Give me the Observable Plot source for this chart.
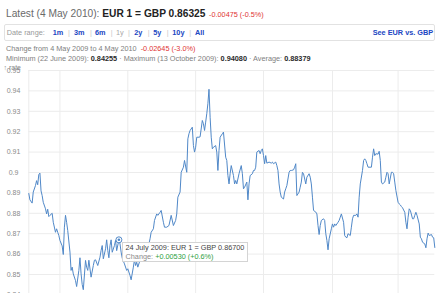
<!DOCTYPE html>
<html>
<head>
<meta charset="utf-8">
<script src="https://cdn.jsdelivr.net/npm/d3@7"></script>
<script src="https://cdn.jsdelivr.net/npm/@observablehq/plot@0.6"></script>
<style>
  html, body { margin: 0; padding: 0; background: #fff; }
  body { width: 440px; height: 293px; overflow: hidden; position: relative;
         font-family: "Liberation Sans", Arial, sans-serif; }
  .t { position: absolute; white-space: nowrap; line-height: 1; }
  .s { font-size: 7.3px; color: #808080; }
  .red { color: #e03434; }
  .b { font-weight: bold; color: #2a2a2a; }
  .lnk { font-weight: bold; color: #2046c2; }
  .off { color: #aaa; font-weight: normal; }
  .sep { color: #c8c8c8; }
  #box { position: absolute; left: 4px; top: 24px; width: 429px; height: 15px;
         border: 1px solid #e2e2e2; border-radius: 2px; }
  #chart { position: absolute; left: 0; top: 62px; }
  #tip { position: absolute; left: 121.5px; top: 242px; width: 124px; height: 18px;
         border: 1px solid #d4d4d4; background: rgba(255,255,255,0.95); }
</style>
</head>
<body>
<div class="t" style="left:6px;top:8.6px;font-size:10.2px;color:#6a6a6a">Latest (4 May 2010): <span style="font-weight:bold;color:#222">EUR 1 = GBP 0.86325</span></div>
<div class="t s red" style="left:209px;top:11.2px">-0.00475 (-0.5%)</div>

<div id="box"></div>
<div class="t s" style="left:6.7px;top:28.5px;color:#999">Date range:</div>
<div class="t s lnk" style="left:52.7px;top:28.5px">1m</div>
<div class="t s sep" style="left:68px;top:28.5px">|</div>
<div class="t s lnk" style="left:74px;top:28.5px">3m</div>
<div class="t s sep" style="left:90px;top:28.5px">|</div>
<div class="t s lnk" style="left:95px;top:28.5px">6m</div>
<div class="t s sep" style="left:110.7px;top:28.5px">|</div>
<div class="t s off" style="left:116px;top:28.5px">1y</div>
<div class="t s sep" style="left:128px;top:28.5px">|</div>
<div class="t s lnk" style="left:134.3px;top:28.5px">2y</div>
<div class="t s sep" style="left:147.7px;top:28.5px">|</div>
<div class="t s lnk" style="left:153.3px;top:28.5px">5y</div>
<div class="t s sep" style="left:166.7px;top:28.5px">|</div>
<div class="t s lnk" style="left:172.3px;top:28.5px">10y</div>
<div class="t s sep" style="left:189.3px;top:28.5px">|</div>
<div class="t s lnk" style="left:195px;top:28.5px">All</div>
<div class="t s lnk" style="left:372.7px;top:28.5px">See EUR vs. GBP</div>

<div class="t s" style="left:6px;top:44.6px">Change from 4 May 2009 to 4 May 2010 &nbsp;<span class="red">-0.02645 (-3.0%)</span></div>
<div class="t s" style="left:6px;top:55.2px">Minimum (22 June 2009): <span class="b">0.84255</span> · Maximum (13 October 2009): <span class="b">0.94080</span> · Average: <span class="b">0.88379</span></div>

<div id="chart"></div>

<div id="tip">
  <div class="t s" style="left:3px;top:1.2px;color:#444">24 July 2009: EUR 1 = GBP 0.86700</div>
  <div class="t s" style="left:3px;top:9.6px;color:#8a8a8a">Change: <span style="color:#2fa043">+0.00530 (+0.6%)</span></div>
</div>

<script>
// ---- data ----
const startDay = "2009-05-04";
const endDay = "2010-05-04";
// days elapsed since 4 May 2009 for each quote
const daysSinceStart = [
  0,1,3,4,6,7,8,9,10,11,12,13,15,16,17,18,19,21,22,24,25,26,27,28,30,31,32,33,34,35,
  37,38,39,40,42,43,45,46,47,48,49,51,52,53,54,56,58,59,60,62,64,65,66,67,69,70,71,72,73,74,
  75,77,78,79,81,82,83,84,86,88,89,91,92,94,95,96,97,98,100,101,102,103,104,106,107,108,109,110,112,113,
  115,116,118,119,121,122,124,126,128,130,132,133,134,136,137,139,140,142,143,144,145,147,148,149,150,151,153,154,156,157,
  158,159,160,161,162,163,164,165,166,168,169,170,171,172,174,175,177,178,179,180,181,182,184,185,186,187,189,191,192,193,
  194,196,197,198,199,201,202,203,204,205,207,208,209,210,211,212,213,214,216,218,219,220,222,223,224,225,226,227,229,230,
  231,232,234,235,236,238,239,240,241,243,244,245,246,247,249,250,252,253,254,255,256,258,259,260,261,262,263,265,266,267,
  268,269,270,272,273,274,275,276,278,279,280,281,283,284,285,286,287,289,290,291,292,294,295,296,297,298,300,301,302,303,
  304,305,308,309,310,311,312,314,315,316,317,318,320,321,322,323,324,326,327,328,329,330,332,333,334,335,336,338,339,340,
  341,342,343,345,346,347,348,349,351,352,353,354,356,357,358,359,360,362,363,364,365
];
// EUR 1 = GBP ...
const eurGbp = [
  0.8897,0.8866,0.8850,0.8904,0.8936,0.8960,0.8940,0.8990,0.8997,0.8910,0.8887,0.8854,0.8822,0.8797,0.8820,0.8784,0.8790,0.8800,0.8756,0.8707,0.8724,0.8707,0.8691,0.8667,0.8640,0.8598,0.8732,0.8790,0.8756,0.8716,
  0.8610,0.8520,0.8536,0.8503,0.8470,0.8441,0.8520,0.8582,0.8503,0.8451,0.84255,0.8569,0.8536,0.8520,0.8570,0.8487,0.8544,0.8570,0.8572,0.8544,0.8585,0.8618,0.8642,0.8577,0.8626,0.8670,0.8618,0.8582,0.8642,0.8670,
  0.8609,0.8642,0.8667,0.8617,0.8670,0.8650,0.8610,0.8580,0.8552,0.8520,0.8528,0.8495,0.8474,0.8536,0.8572,0.8544,0.8560,0.8536,0.8570,0.8590,0.8620,0.8600,0.8630,0.8610,0.8640,0.8650,0.8675,0.8707,0.8724,0.8765,
  0.8797,0.8790,0.8805,0.8814,0.8756,0.8732,0.8732,0.8740,0.8790,0.8740,0.8765,0.8797,0.8879,0.8904,0.9001,0.9026,0.9059,0.9001,0.9165,0.9190,0.9206,0.9222,0.9132,0.9100,0.9124,0.9173,0.9173,0.9175,0.9255,0.9239,
  0.9206,0.9247,0.9288,0.9337,0.9408,0.9271,0.9173,0.9116,0.9124,0.9132,0.9100,0.9010,0.9108,0.9173,0.9190,0.9198,0.9075,0.9059,0.8985,0.8944,0.8994,0.9034,0.8985,0.8944,0.8961,0.8944,0.8994,0.9034,0.8994,0.8920,
  0.8928,0.8953,0.8866,0.8944,0.8985,0.8994,0.9010,0.9010,0.9026,0.9100,0.9108,0.9092,0.9108,0.9116,0.9083,0.9043,0.9083,0.9046,0.9051,0.9046,0.9051,0.9043,0.9051,0.9034,0.9010,0.8944,0.8904,0.8879,0.8870,0.8904,
  0.8920,0.8936,0.9001,0.9010,0.9010,0.9013,0.9026,0.9043,0.8887,0.8904,0.8928,0.8953,0.9001,0.8994,0.8944,0.8977,0.8994,0.8977,0.8944,0.8879,0.8814,0.8806,0.8797,0.8740,0.8696,0.8740,0.8765,0.8773,0.8765,0.8700,
  0.8667,0.8621,0.8675,0.8724,0.8748,0.8732,0.8748,0.8740,0.8756,0.8765,0.8781,0.8797,0.8756,0.8691,0.8683,0.8680,0.8700,0.8691,0.8732,0.8773,0.8790,0.8790,0.8797,0.8781,0.8879,0.8944,0.9010,0.9059,0.9067,0.9059,
  0.9043,0.9026,0.9026,0.9075,0.9116,0.9083,0.9092,0.9090,0.9104,0.9059,0.8953,0.8944,0.8953,0.8977,0.9001,0.8994,0.8944,0.9001,0.9001,0.8994,0.8953,0.8912,0.8854,0.8846,0.8841,0.8833,0.8827,0.8805,0.8756,0.8724,
  0.8781,0.8822,0.8814,0.8773,0.8773,0.8790,0.8805,0.8790,0.8748,0.8683,0.8675,0.8658,0.8650,0.8631,0.8675,0.8703,0.8691,0.8696,0.8683,0.8680,0.86325
];
const yTicks = [0.84,0.85,0.86,0.87,0.88,0.89,0.90,0.91,0.92,0.93,0.94,0.95];
const gridDates = ["2009-06-01","2009-08-01","2009-10-01","2009-12-01","2010-02-01","2010-04-01"];
const highlightDay = 81; // 24 July 2009

// ---- build ----
const start = new Date(startDay + "T00:00:00Z");
const end = new Date(endDay + "T00:00:00Z");
const data = daysSinceStart.map((d, i) => ({
  date: d3.utcDay.offset(start, d), rate: eurGbp[i], day: d
}));
const highlight = data.filter(d => d.day === highlightDay);
const lineColor = "#5088c8";
const gridColor = "#ececec";

const chart = Plot.plot({
  width: 440,
  height: 252,
  marginTop: 8,
  marginBottom: 19.6,
  marginLeft: 28.3,
  marginRight: 5.7,
  style: { background: "transparent", fontFamily: "'Liberation Sans', Arial, sans-serif", fontSize: "7px", color: "#888" },
  x: { type: "utc", domain: [start, end], axis: null },
  y: { domain: [0.84, 0.95], axis: null },
  marks: [
    Plot.gridY(yTicks, { stroke: gridColor, strokeOpacity: 1 }),
    Plot.gridX(gridDates.map(s => new Date(s + "T00:00:00Z")), { stroke: gridColor, strokeOpacity: 1 }),
    Plot.ruleX([start], { stroke: gridColor }),
    Plot.axisY(yTicks, {
      anchor: "left", tickSize: 0, tickPadding: 15.3, textAnchor: "middle",
      tickFormat: d => String(+d.toFixed(2)), fill: "#8a8a8a", fontSize: 7
    }),
    Plot.line(data, { x: "date", y: "rate", stroke: lineColor, strokeWidth: 1 }),
    Plot.dot(highlight, { x: "date", y: "rate", r: 3, stroke: lineColor, fill: "white", strokeWidth: 1 }),
    Plot.dot(highlight, { x: "date", y: "rate", r: 1.3, fill: lineColor, stroke: null })
  ]
});
document.getElementById("chart").appendChild(chart);
</script>
</body>
</html>
